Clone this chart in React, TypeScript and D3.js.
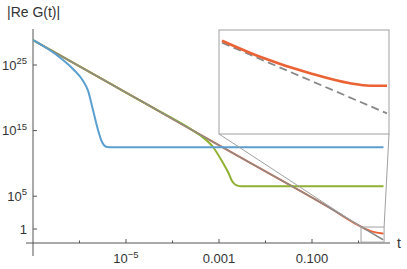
import React from "react";
import * as d3 from "d3";

// ---- data (log10 values) ----
const refLogT = [-7, -4.5, -2.548, -0.613, 0.054, 0.52];
const refLogG = [28.8, 18.8, 10.95, 3.2, 0.35, -1.6];

const orangeLogT = [-7, -4.5, -2.548, -0.613, 0.054, 0.3, 0.52];
const orangeLogG = [28.8, 18.8, 10.95, 3.2, 0.35, -0.4, -0.68];

const greenLogT = [-7, -5.3, -4.5, -3.624, -3.409, -3.129, -2.914, -2.806, -2.72, -2.634, -2.505, 0.52];
const greenLogG = [28.8, 22.0, 18.8, 15.3, 14.3, 12.5, 10.06, 8.69, 7.32, 6.7, 6.5, 6.5];

const blueLogT = [-7, -6.7, -6.355, -6.14, -5.925, -5.817, -5.71, -5.602, -5.516, -5.409, -5.3, 0.52];
const blueLogG = [28.8, 27.55, 25.76, 24.4, 22.6, 21.1, 18.14, 15.09, 13.26, 12.5, 12.45, 12.45];

// inset (zoom) series
const insetOrangeLogT = [0.0628, 0.1736, 0.3195, 0.4362, 0.4946, 0.5442];
const insetOrangeLogG = [0.0634, -0.2905, -0.6576, -0.8788, -0.9318, -0.9318];
const insetRefLogT = [0.0628, 0.5442];
const insetRefLogG = [0.019, -1.543];

// zoom window
const zoomLogT = [0.054, 0.55];
const zoomLogG = [-2.0, 0.3];

// ticks
const yTickExp = [0, 5, 15, 25];
const yTickLabels = [["1", ""], ["10", "5"], ["10", "15"], ["10", "25"]];
const xMajorExp = [-5, -3, -1];
const xMajorLabels = [["10", "\u22125"], ["0.001", ""], ["0.100", ""]];
const xMinorExp = [-6, -4, -2, 0];

const domainLogT = [-7, 0.677];
const domainLogG = [-2.134, 30.49];

const p10 = (v: number) => Math.pow(10, v);

export default function App() {
  const W = 407, H = 269;
  const x = d3.scaleLog().domain(domainLogT.map(p10)).range([33, 390]);
  const y = d3.scaleLog().domain(domainLogG.map(p10)).range([243, 29]);

  const mk = (lt: number[], lg: number[], sx: any, sy: any) =>
    d3
      .line<[number, number]>()
      .x((d) => sx(d[0]))
      .y((d) => sy(d[1]))
      .curve(d3.curveMonotoneX)(lt.map((t, i) => [p10(t), p10(lg[i])]))!;

  const inset = { x0: 219, y0: 30, x1: 389, y1: 134 };
  const xi = d3.scaleLog().domain(zoomLogT.map(p10)).range([inset.x0, inset.x1]);
  const yi = d3.scaleLog().domain(zoomLogG.map(p10)).range([inset.y1, inset.y0]);

  const bx0 = x(p10(zoomLogT[0])), bx1 = x(p10(zoomLogT[1]));
  const by0 = y(p10(zoomLogG[1])), by1 = y(p10(zoomLogG[0]));

  const font = "'Liberation Sans', Arial, sans-serif";
  const axisColor = "#555";
  const textColor = "#333";

  const xAxisY = 243;
  const yAxisX = 33;

  return (
    <svg
      width={W}
      height={H}
      style={{ position: "absolute", left: 0, top: 0, background: "#fff" }}
      fontFamily={font}
    >
      <defs>
        <clipPath id="plotclip">
          <rect x={33} y={20} width={360} height={224} />
        </clipPath>
        <clipPath id="insetclip">
          <rect x={inset.x0} y={inset.y0} width={inset.x1 - inset.x0} height={inset.y1 - inset.y0} />
        </clipPath>
      </defs>

      {/* axes */}
      <line x1={26} x2={390} y1={xAxisY} y2={xAxisY} stroke={axisColor} strokeWidth={1} />
      <line x1={yAxisX} x2={yAxisX} y1={29} y2={256} stroke={axisColor} strokeWidth={1} />

      {yTickExp.map((e, i) => (
        <g key={"yt" + i}>
          <line x1={yAxisX} x2={yAxisX + 4} y1={y(p10(e))} y2={y(p10(e))} stroke={axisColor} />
          <text x={27} y={y(p10(e)) + 4.5} fontSize={13} fill={textColor} textAnchor="end">
            {yTickLabels[i][0]}
            {yTickLabels[i][1] && (
              <tspan fontSize={9.5} dy={-5.5}>
                {yTickLabels[i][1]}
              </tspan>
            )}
          </text>
        </g>
      ))}

      {xMajorExp.map((e, i) => (
        <g key={"xt" + i}>
          <line x1={x(p10(e))} x2={x(p10(e))} y1={xAxisY} y2={xAxisY - 4} stroke={axisColor} />
          <text x={x(p10(e))} y={263} fontSize={13} fill={textColor} textAnchor="middle">
            {xMajorLabels[i][0]}
            {xMajorLabels[i][1] && (
              <tspan fontSize={9.5} dy={-5.5}>
                {xMajorLabels[i][1]}
              </tspan>
            )}
          </text>
        </g>
      ))}
      {xMinorExp.map((e, i) => (
        <line key={"xm" + i} x1={x(p10(e))} x2={x(p10(e))} y1={xAxisY} y2={xAxisY - 2.5} stroke={axisColor} />
      ))}

      <text x={7} y={17} fontSize={14} fill={textColor}>
        |Re G(t)|
      </text>
      <text x={397} y={248} fontSize={14} fill={textColor}>
        t
      </text>

      {/* series */}
      <g clipPath="url(#plotclip)" fill="none" strokeLinejoin="round" strokeLinecap="round">
        <path d={mk(orangeLogT, orangeLogG, x, y)} stroke="#EB6235" strokeWidth={2} />
        <path d={mk(greenLogT, greenLogG, x, y)} stroke="#8FB032" strokeWidth={2} />
        <path d={mk(refLogT, refLogG, x, y)} stroke="#8a8a8a" strokeWidth={1.5} />
        <path d={mk(blueLogT, blueLogG, x, y)} stroke="#5B9FD0" strokeWidth={2} />
      </g>

      {/* zoom box and connectors */}
      <rect x={bx0} y={by0} width={bx1 - bx0} height={by1 - by0} fill="none" stroke="#a0a0a0" strokeWidth={1} />
      <line x1={inset.x0} y1={inset.y1} x2={bx0} y2={by0} stroke="#a0a0a0" strokeWidth={1} />
      <line x1={inset.x1} y1={inset.y1} x2={bx1} y2={by0} stroke="#a0a0a0" strokeWidth={1} />

      {/* inset */}
      <rect
        x={inset.x0}
        y={inset.y0}
        width={inset.x1 - inset.x0}
        height={inset.y1 - inset.y0}
        fill="#fff"
        stroke="#a0a0a0"
        strokeWidth={1}
      />
      <g clipPath="url(#insetclip)" fill="none">
        <path d={mk(insetRefLogT, insetRefLogG, xi, yi)} stroke="#888" strokeWidth={1.8} strokeDasharray="8,4.5" />
        <path d={mk(insetOrangeLogT, insetOrangeLogG, xi, yi)} stroke="#EB6235" strokeWidth={2.6} />
      </g>
    </svg>
  );
}
